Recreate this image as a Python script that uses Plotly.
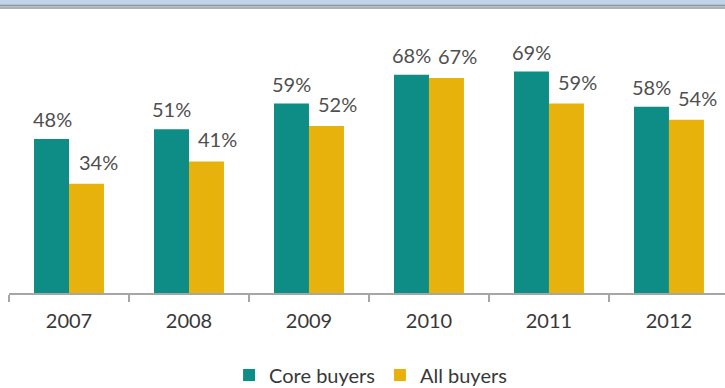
import plotly.graph_objects as go

years = ["2007", "2008", "2009", "2010", "2011", "2012"]
core_buyers = [48, 51, 59, 68, 69, 58]
all_buyers = [34, 41, 52, 67, 59, 54]

TEAL = "#0E8C86"
GOLD = "#E8B20C"
LABEL_GRAY = "#4F4F4F"
TEXT_DARK = "#383838"

W, H = 725, 388
M_L, M_R, M_T, M_B = 9, 0, 10, 95
plot_h = H - M_T - M_B
px_per_pct = 3.21
y_top = plot_h / px_per_pct

fig = go.Figure()
fig.add_trace(go.Bar(x=years, y=core_buyers, name="Core buyers",
                     marker=dict(color=TEAL, line=dict(width=0))))
fig.add_trace(go.Bar(x=years, y=all_buyers, name="All buyers",
                     marker=dict(color=GOLD, line=dict(width=0))))

# value labels above each bar (the "All buyers" labels sit a bit to the right)
annotations = []
for i, (c, a) in enumerate(zip(core_buyers, all_buyers)):
    annotations.append(dict(x=i, y=c, xref="x", yref="y", text=f"{c}%",
                            showarrow=False, xshift=-17, yshift=20,
                            yanchor="middle",
                            font=dict(family="Lato", size=20, color=LABEL_GRAY)))
    annotations.append(dict(x=i, y=a, xref="x", yref="y", text=f"{a}%",
                            showarrow=False, xshift=29, yshift=22,
                            yanchor="middle",
                            font=dict(family="Lato", size=20, color=LABEL_GRAY)))

# header strip along the top edge
def py(pix):
    return 1 + (M_T - pix) / plot_h

shapes = [
    dict(type="rect", xref="paper", yref="paper", x0=-0.02, x1=1.02,
         y0=py(4.5), y1=py(0), fillcolor="#BFD4E8", line=dict(width=0), layer="above"),
    dict(type="rect", xref="paper", yref="paper", x0=-0.02, x1=1.02,
         y0=py(6.5), y1=py(4.5), fillcolor="#8D98A4", line=dict(width=0), layer="above"),
    dict(type="rect", xref="paper", yref="paper", x0=-0.02, x1=1.02,
         y0=py(9), y1=py(6.5), fillcolor="#A9B1BA", line=dict(width=0), layer="above"),
]

fig.update_layout(
    width=W, height=H,
    margin=dict(l=M_L, r=M_R, t=M_T, b=M_B, pad=0, autoexpand=False),
    paper_bgcolor="white", plot_bgcolor="white",
    barmode="group", bargap=0.417, bargroupgap=0,
    font=dict(family="Lato", color=TEXT_DARK),
    showlegend=True,
    legend=dict(orientation="h", x=0.505, xanchor="center",
                yref="container", y=1 - 375 / H, yanchor="middle",
                font=dict(family="Lato", size=20, color=TEXT_DARK),
                itemwidth=30, traceorder="normal", bgcolor="rgba(0,0,0,0)"),
    xaxis=dict(type="category", range=[-0.5, 5.467], showline=True,
               linecolor="#A6A6A6", linewidth=1.5,
               ticks="outside", tickson="boundaries", ticklen=7, tickcolor="#A6A6A6",
               tickwidth=1.5, ticklabelstandoff=9, automargin=False,
               tickfont=dict(family="Lato", size=20, color=TEXT_DARK),
               showgrid=False, zeroline=False, fixedrange=True),
    yaxis=dict(range=[0, y_top], visible=False, showgrid=False, zeroline=False,
               fixedrange=True),
    annotations=annotations,
    shapes=shapes,
)

fig.write_html("out.html")
